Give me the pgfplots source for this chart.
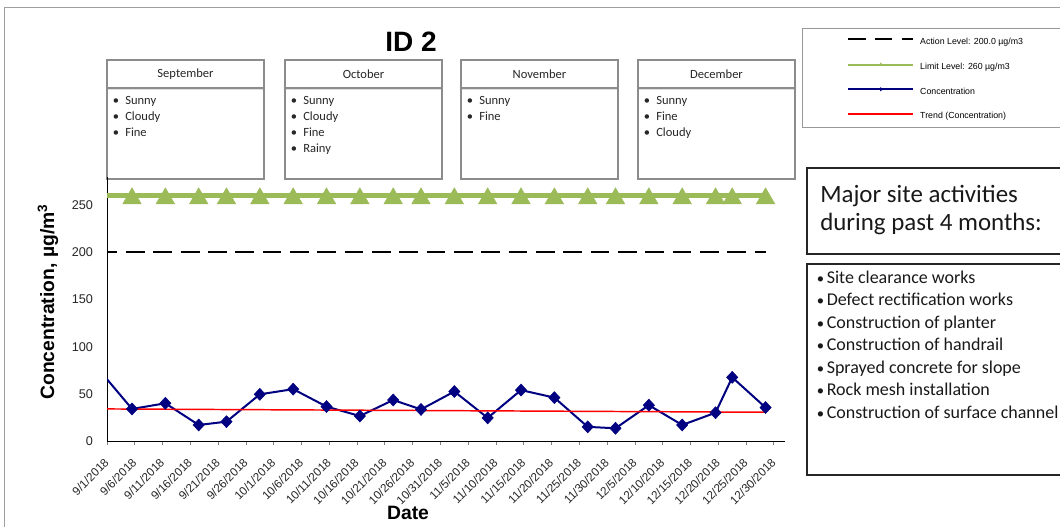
\documentclass[border=0pt]{standalone}
\usepackage{fontspec}
\setmainfont{Liberation Sans}
\newfontfamily\carlito{Carlito}
\usepackage{pgfplots}
\pgfplotsset{compat=1.18}
\usetikzlibrary{shadows}
\definecolor{limitgreen}{HTML}{9BBB59}
\definecolor{conc}{HTML}{000080}
\definecolor{boxgray}{HTML}{8C8C8C}

\pgfplotsset{
  plain legend/.style={legend image code/.code={\draw[##1] (0pt,2pt) -- (48.75pt,2pt);}},
  dash legend/.style={legend image code/.code={\draw[##1, dash pattern=on 13pt off 7pt] (0pt,2pt) -- (48.75pt,2pt);}},
  markline legend/.style={legend image code/.code={\draw[##1, mark=none, line width=1.5pt] (0pt,2pt) -- (48.75pt,2pt); \path[##1, mark size=1.3pt, mark options={line width=0.3pt,xscale=1}] plot coordinates {(24.4pt,2pt)};}},
}

\newcommand{\monthbox}[3]{%
  \draw[boxgray, line width=1.1pt, fill=white] (#1,88) rectangle ++(157,91);
  \draw[boxgray, line width=1.1pt, fill=white, drop shadow={shadow xshift=0pt, shadow yshift=-1.5pt, opacity=0.25}] (#1,60) rectangle ++(157,28);
  \node[font=\carlito\fontsize{9.4}{11}\selectfont, text=black!85] at (#1+78.5,74) {#2};
  \foreach \it [count=\i] in {#3} {
    \node[anchor=base, font=\carlito\fontsize{9.4}{11}\selectfont, text=black!85] at (#1+9,105+16*\i-16) {•};
    \node[anchor=base west, inner sep=0pt, font=\carlito\fontsize{9.4}{11}\selectfont, text=black!85] at (#1+18,105+16*\i-16) {\it};
  }
}

\begin{document}
\begin{tikzpicture}
\useasboundingbox (0,0) rectangle (795pt,-395.25pt);
\begin{scope}[x=0.75pt,y=-0.75pt]
\draw[gray!75, line width=0.75pt] (4,8) rectangle (1080,560);
\node[font=\bfseries\fontsize{21}{24}\selectfont] at (411,42) {ID 2};
\monthbox{107}{September}{Sunny,Cloudy,Fine}
\monthbox{285}{October}{Sunny,Cloudy,Fine,Rainy}
\monthbox{461}{November}{Sunny,Fine}
\monthbox{638}{December}{Sunny,Fine,Cloudy}
\draw[gray!80, line width=0.75pt] (802,29) rectangle (1080,128);
\draw[black!85, line width=1.4pt] (807,168) rectangle (1080,254);
\node[anchor=base west, inner sep=0pt, font=\carlito\fontsize{18.7}{21}\selectfont, text=black!90] at (820,203) {Major site activities};
\node[anchor=base west, inner sep=0pt, font=\carlito\fontsize{18.7}{21}\selectfont, text=black!90] at (820,231) {during past 4 months:};
\draw[black!85, line width=1.4pt] (807,264) rectangle (1080,475);
\foreach \it [count=\i] in {Site clearance works,Defect rectification works,Construction of planter,Construction of handrail,Sprayed concrete for slope,Rock mesh installation,Construction of surface channel} {
  \node[anchor=base, inner sep=0pt, font=\carlito\fontsize{11}{13}\selectfont, text=black!90] at (820.5,283.3+22.5*\i-22.5) {•};
  \node[anchor=base west, inner sep=0pt, font=\carlito\fontsize{13.5}{15}\selectfont, text=black!90] at (826.5,283.3+22.5*\i-22.5) {\it};
}
\end{scope}

\begin{axis}[
  at={(80.25pt,-330.75pt)}, anchor=south west,
  width=508.5pt, height=198pt, scale only axis,
  xmin=0, xmax=122, ymin=0, ymax=280,
  axis lines*=left,
  axis line style={black, line width=0.75pt},
  xtick={0,5,...,120},
  xticklabels={9/1/2018,9/6/2018,9/11/2018,9/16/2018,9/21/2018,9/26/2018,10/1/2018,10/6/2018,10/11/2018,10/16/2018,10/21/2018,10/26/2018,10/31/2018,11/5/2018,11/10/2018,11/15/2018,11/20/2018,11/25/2018,11/30/2018,12/5/2018,12/10/2018,12/15/2018,12/20/2018,12/25/2018,12/30/2018},
  ytick={0,50,...,250},
  tick align=outside, major tick length=3pt,
  x tick style={gray, line width=0.6pt},
  y tick style={draw=none},
  /pgf/number format/assume math mode=true,
  x tick label style={font=\fontsize{8.8}{10}\selectfont, text=black!85, xshift=0.5pt, yshift=-11pt, rotate=45, anchor=east, inner sep=1pt},
  y tick label style={font=\fontsize{9.5}{11}\selectfont, text=black!85, xshift=-4pt},
  xlabel={Date},
  ylabel={Concentration, µg/m\textsuperscript{3}},
  xlabel style={font=\bfseries\fontsize{14.5}{16}\selectfont, at={(axis description cs:0.444,-0.273)}, anchor=center},
  ylabel style={font=\bfseries\fontsize{14.5}{16}\selectfont, at={(axis description cs:-0.087,0.527)}, anchor=center},
  legend cell align=left,
  legend style={at={(rel axis cs:1.0914,1.53)}, anchor=north west, draw=none, fill=none, inner sep=0pt, row sep=12pt, column sep=4.5pt,
    font=\fontsize{6.6}{7}\selectfont, nodes={inner sep=0pt, text height=5pt, text depth=1.5pt}},
]
\addplot[black, line width=1.5pt, dash pattern=on 14pt off 6.5pt, dash legend]
  coordinates {(-1.5,200) (4.5,200) (10.5,200) (16.5,200) (21.5,200) (27.5,200) (33.5,200) (39.5,200) (45.5,200) (51.5,200) (56.5,200) (62.5,200) (68.5,200) (74.5,200) (80.5,200) (86.5,200) (91.5,200) (97.5,200) (103.5,200) (109.5,200) (112.5,200) (118.5,200)};
\addlegendentry{Action Level: 200.0 µg/m3}
\addplot[limitgreen, line width=3.75pt, forget plot] coordinates {(-1.5,260) (4.5,260)};
\addplot[limitgreen, line width=3.75pt, mark=triangle*, mark size=8pt, mark options={line width=0.4pt, yshift=-2pt}, markline legend]
  coordinates {(4.5,260) (10.5,260) (16.5,260) (21.5,260) (27.5,260) (33.5,260) (39.5,260) (45.5,260) (51.5,260) (56.5,260) (62.5,260) (68.5,260) (74.5,260) (80.5,260) (86.5,260) (91.5,260) (97.5,260) (103.5,260) (109.5,260) (112.5,260) (118.5,260)};
\addlegendentry{Limit Level: 260 µg/m3}
\addplot[conc, line width=1.5pt, forget plot] coordinates {(-1.5,76) (4.5,34)};
\addplot[conc, line width=1.5pt, mark=diamond*, mark size=4.5pt, mark options={xscale=1.25, line width=0.4pt}, markline legend]
  coordinates {(4.5,34) (10.5,40) (16.5,17) (21.5,20.5) (27.5,49.5) (33.5,55) (39.5,36.5) (45.5,26.5) (51.5,43.5) (56.5,33.5) (62.5,52.5) (68.5,24.5) (74.5,54) (80.5,46) (86.5,15) (91.5,13.5) (97.5,38) (103.5,17) (109.5,30) (112.5,67.5) (118.5,35.5)};
\addlegendentry{Concentration}
\addplot[red, line width=1.1pt, plain legend] coordinates {(0,34) (118.5,30.5)};
\addlegendentry{Trend (Concentration)}
\end{axis}
\end{tikzpicture}
\end{document}
